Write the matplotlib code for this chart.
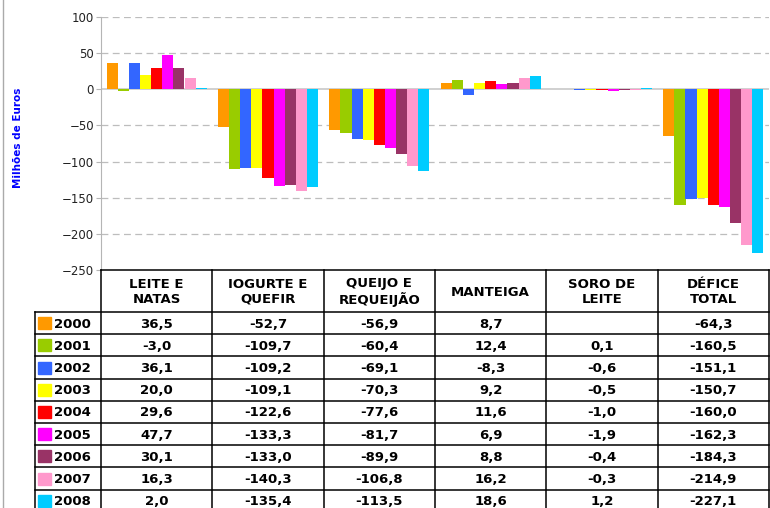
import numpy as np
import matplotlib
matplotlib.use("Agg")
import matplotlib.pyplot as plt
from matplotlib.patches import Rectangle

categories = ["LEITE E\nNATAS", "IOGURTE E\nQUEFIR", "QUEIJO E\nREQUEIJÃO",
              "MANTEIGA", "SORO DE\nLEITE", "DÉFICE\nTOTAL"]
years = ["2000", "2001", "2002", "2003", "2004", "2005", "2006", "2007", "2008"]
colors = ["#FF9900", "#99CC00", "#3366FF", "#FFFF00", "#FF0000",
          "#FF00FF", "#993366", "#FF99CC", "#00CCFF"]

v2000 = [36.5, -52.7, -56.9, 8.7, np.nan, -64.3]
v2001 = [-3.0, -109.7, -60.4, 12.4, 0.1, -160.5]
v2002 = [36.1, -109.2, -69.1, -8.3, -0.6, -151.1]
v2003 = [20.0, -109.1, -70.3, 9.2, -0.5, -150.7]
v2004 = [29.6, -122.6, -77.6, 11.6, -1.0, -160.0]
v2005 = [47.7, -133.3, -81.7, 6.9, -1.9, -162.3]
v2006 = [30.1, -133.0, -89.9, 8.8, -0.4, -184.3]
v2007 = [16.3, -140.3, -106.8, 16.2, -0.3, -214.9]
v2008 = [2.0, -135.4, -113.5, 18.6, 1.2, -227.1]
values = [v2000, v2001, v2002, v2003, v2004, v2005, v2006, v2007, v2008]

W, H = 770, 508
fig = plt.figure(figsize=(W / 100, H / 100), dpi=100)

# pixel layout
ax_left, ax_right = 101, 769
ax_top, ax_bottom = 17, 270
ax = fig.add_axes([ax_left / W, (H - ax_bottom) / H,
                   (ax_right - ax_left) / W, (ax_bottom - ax_top) / H])

x = np.arange(len(categories))
bw = 0.1
for i, (yr, vals) in enumerate(zip(years, values)):
    ax.bar(x + (i - 4) * bw, vals, width=bw, color=colors[i], zorder=3)

ax.set_xlim(-0.5, len(categories) - 0.5)
ax.set_ylim(-250, 100)
ax.set_yticks(np.arange(-250, 101, 50))
ax.set_xticks([])
for t in [100, 50, -50, -100, -150, -200]:
    ax.axhline(t, color="#bdbdbd", lw=0.9, ls=(0, (5.5, 3.5)), zorder=1)
ax.axhline(0, color="#c8c8c8", lw=1.2, zorder=2)
for s in ["top", "right", "bottom"]:
    ax.spines[s].set_visible(False)
ax.spines["left"].set_color("#b5b5b5")
ax.tick_params(axis="y", length=3.5, width=0.8, color="#b5b5b5", pad=1.5,
               labelsize=8.5, labelcolor="#222222")
ax.set_ylabel("Milhões de Euros", color="#0000FF", fontsize=7.5,
              fontweight="bold")
ax.yaxis.set_label_coords((23 - ax_left) / (ax_right - ax_left),
                          (ax_bottom - 138) / (ax_bottom - ax_top))

# table drawn on an overlay in pixel coordinates
tax = fig.add_axes([0, 0, 1, 1], zorder=5)
tax.set_xlim(0, W)
tax.set_ylim(H, 0)
tax.axis("off")

col_w = (ax_right - ax_left) / len(categories)
cx = ax_left + col_w * np.arange(len(categories) + 1)
head_top, head_bot = 270, 312
row_h = 22.2
row_y = head_bot + row_h * np.arange(len(years) + 1)
lab_left = 35
lw = 1.1

tax.plot([3, 3], [0, H], color="#aaaaaa", lw=1)
tax.plot([ax_left, ax_right], [head_top, head_top], color="black", lw=lw)
for yy in row_y:
    tax.plot([lab_left, ax_right], [yy, yy], color="black", lw=lw)
for xx in cx:
    tax.plot([xx, xx], [head_top, H + 5], color="black", lw=lw)
tax.plot([lab_left, lab_left], [head_bot, H + 5], color="black", lw=lw)

tfont = dict(family="DejaVu Sans", fontweight="bold", fontsize=9.5,
             color="black")
for j, cat in enumerate(categories):
    tax.text((cx[j] + cx[j + 1]) / 2, (head_top + head_bot) / 2 + 1, cat,
             ha="center", va="center", linespacing=1.15, **tfont)

for i, (yr, vals) in enumerate(zip(years, values)):
    yc = (row_y[i] + row_y[i + 1]) / 2
    tax.add_patch(Rectangle((38, yc - 6), 13, 12, color=colors[i]))
    tax.text(54, yc + 1, yr, ha="left", va="center", **tfont)
    for j, v in enumerate(vals):
        s = "" if np.isnan(v) else f"{v:.1f}".replace(".", ",")
        tax.text((cx[j] + cx[j + 1]) / 2, yc + 1, s,
                 ha="center", va="center", **tfont)

fig.savefig("out.png", dpi=100)
